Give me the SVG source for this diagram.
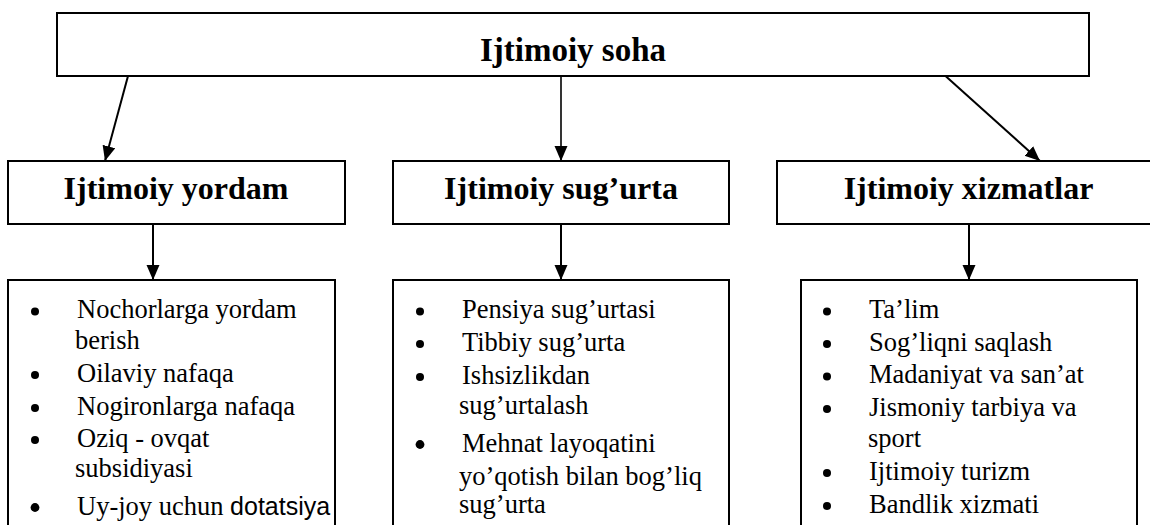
<svg xmlns="http://www.w3.org/2000/svg" width="1150" height="525" viewBox="0 0 1150 525">
<defs>
<marker id="ah" markerUnits="userSpaceOnUse" markerWidth="16" markerHeight="14" refX="15" refY="6.5" orient="auto">
<path d="M0,0 L15,6.5 L0,13 z" fill="#000"/>
</marker>
<style>
.box{fill:#fff;stroke:#000;stroke-width:2}
.head{font-family:"Liberation Serif","Times New Roman",serif;font-weight:bold;font-size:32px;text-anchor:middle;fill:#000}
.item{font-family:"Liberation Serif","Times New Roman",serif;font-size:26.5px;fill:#000}
.sans{font-family:"Liberation Sans",Arial,sans-serif}
.bul{fill:#000}
.con{stroke:#000;stroke-width:2;fill:none;marker-end:url(#ah)}
</style>
</defs>
<rect width="1150" height="525" fill="#fff"/>

<g id="connectors">
<line class="con" x1="128" y1="76" x2="105" y2="161"/>
<line class="con" x1="561" y1="76" x2="561" y2="161" style="stroke-width:1.6"/>
<line class="con" x1="945.5" y1="76" x2="1040" y2="161"/>
<line class="con" x1="153" y1="218" x2="153" y2="280"/>
<line class="con" x1="561" y1="218" x2="561" y2="280"/>
<line class="con" x1="969" y1="218" x2="969" y2="280"/>
</g>

<g id="root">
<rect class="box" x="57" y="13" width="1032" height="63"/>
<text class="head" x="573" y="61" style="font-size:33px">Ijtimoiy soha</text>
</g>

<g id="yordam">
<rect class="box" x="8" y="161" width="337" height="63"/>
<text class="head" x="176" y="199">Ijtimoiy yordam</text>
</g>
<g id="sugurta">
<rect class="box" x="393" y="161" width="336" height="63"/>
<text class="head" x="561" y="199">Ijtimoiy sug’urta</text>
</g>
<g id="xizmatlar">
<rect class="box" x="777" y="161" width="383" height="63"/>
<text class="head" x="968.5" y="199">Ijtimoiy xizmatlar</text>
</g>

<g id="yordam-list">
<rect class="box" x="8" y="280" width="327" height="260"/>
<circle class="bul" cx="35" cy="311.5" r="4"/>
<circle class="bul" cx="35" cy="375" r="4"/>
<circle class="bul" cx="35" cy="408" r="4"/>
<circle class="bul" cx="35" cy="440" r="4"/>
<circle class="bul" cx="35" cy="507.5" r="4.4"/>
<text class="item" x="77" y="318">Nochorlarga yordam</text>
<text class="item" x="75" y="349">berish</text>
<text class="item" x="77" y="382">Oilaviy nafaqa</text>
<text class="item" x="77" y="415">Nogironlarga nafaqa</text>
<text class="item" x="77" y="447">Oziq - ovqat</text>
<text class="item" x="75" y="477">subsidiyasi</text>
<text class="item" x="77" y="515">Uy-joy uchun <tspan class="sans" style="font-size:25px">dotatsiya</tspan></text>
</g>

<g id="sugurta-list">
<rect class="box" x="393" y="280" width="336" height="260"/>
<circle class="bul" cx="420" cy="311.5" r="4"/>
<circle class="bul" cx="420" cy="344" r="4"/>
<circle class="bul" cx="420" cy="377" r="4"/>
<circle class="bul" cx="420" cy="444.5" r="4.4"/>
<text class="item" x="462" y="318">Pensiya sug’urtasi</text>
<text class="item" x="462" y="351">Tibbiy sug’urta</text>
<text class="item" x="462" y="384">Ishsizlikdan</text>
<text class="item" x="459" y="414">sug’urtalash</text>
<text class="item" x="462" y="452">Mehnat layoqatini</text>
<text class="item" x="459" y="485">yo’qotish bilan bog’liq</text>
<text class="item" x="459" y="513">sug’urta</text>
</g>

<g id="xizmatlar-list">
<rect class="box" x="801" y="280" width="336" height="260"/>
<circle class="bul" cx="827" cy="311.5" r="4"/>
<circle class="bul" cx="827" cy="344" r="4"/>
<circle class="bul" cx="827" cy="376.5" r="4"/>
<circle class="bul" cx="827" cy="409" r="4"/>
<circle class="bul" cx="827" cy="473" r="4"/>
<circle class="bul" cx="827" cy="506" r="4"/>
<text class="item" x="869" y="318">Ta’lim</text>
<text class="item" x="869" y="351">Sog’liqni saqlash</text>
<text class="item" x="869" y="383">Madaniyat va san’at</text>
<text class="item" x="869" y="416">Jismoniy tarbiya va</text>
<text class="item" x="868" y="447">sport</text>
<text class="item" x="869" y="480">Ijtimoiy turizm</text>
<text class="item" x="869" y="513">Bandlik xizmati</text>
</g>
</svg>
